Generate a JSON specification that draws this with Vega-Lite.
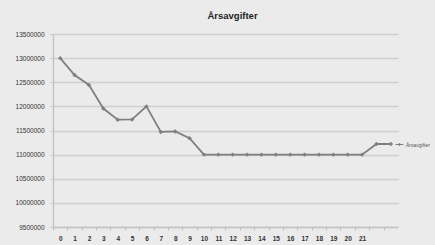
{
  "$schema": "https://vega.github.io/schema/vega-lite/v6.json",
  "width": 345,
  "height": 193,
  "autosize": "none",
  "padding": {"left": 53, "top": 34, "right": 37, "bottom": 18},
  "background": "#ebebeb",
  "title": {"text": "Årsavgifter", "font": "Liberation Sans", "fontSize": 9.5, "fontWeight": "bold", "color": "#222222", "anchor": "middle", "offset": 11, "dx": 7},
  "data": {"values": [
    {"x": "0", "v": 13000000, "s": "Årsavgifter"},
    {"x": "1", "v": 12650000, "s": "Årsavgifter"},
    {"x": "2", "v": 12445000, "s": "Årsavgifter"},
    {"x": "3", "v": 11955000, "s": "Årsavgifter"},
    {"x": "4", "v": 11725000, "s": "Årsavgifter"},
    {"x": "5", "v": 11730000, "s": "Årsavgifter"},
    {"x": "6", "v": 12000000, "s": "Årsavgifter"},
    {"x": "7", "v": 11470000, "s": "Årsavgifter"},
    {"x": "8", "v": 11480000, "s": "Årsavgifter"},
    {"x": "9", "v": 11340000, "s": "Årsavgifter"},
    {"x": "10", "v": 11000000, "s": "Årsavgifter"},
    {"x": "11", "v": 11000000, "s": "Årsavgifter"},
    {"x": "12", "v": 11000000, "s": "Årsavgifter"},
    {"x": "13", "v": 11000000, "s": "Årsavgifter"},
    {"x": "14", "v": 11000000, "s": "Årsavgifter"},
    {"x": "15", "v": 11000000, "s": "Årsavgifter"},
    {"x": "16", "v": 11000000, "s": "Årsavgifter"},
    {"x": "17", "v": 11000000, "s": "Årsavgifter"},
    {"x": "18", "v": 11000000, "s": "Årsavgifter"},
    {"x": "19", "v": 11000000, "s": "Årsavgifter"},
    {"x": "20", "v": 11000000, "s": "Årsavgifter"},
    {"x": "21", "v": 11000000, "s": "Årsavgifter"},
    {"x": "22", "v": 11220000, "s": "Årsavgifter"},
    {"x": "23", "v": 11220000, "s": "Årsavgifter"}
  ]},
  "encoding": {
    "x": {"field": "x", "type": "ordinal", "sort": null,
      "scale": {"type": "band", "paddingInner": 0, "paddingOuter": 0},
      "axis": {"title": null, "labelAngle": 0, "labelExpr": "toNumber(datum.value) > 21 ? '' : datum.label",
        "labelFont": "Liberation Sans", "labelFontSize": 6.5, "labelFontWeight": "bold", "labelColor": "#333333",
        "labelPadding": 5, "tickOffset": -7.19, "labelOffset": 7.19, "tickSize": 3, "tickColor": "#bbbbbb", "tickWidth": 1,
        "domainColor": "#c4c4c4", "domainWidth": 1.5, "grid": false}},
    "y": {"field": "v", "type": "quantitative",
      "scale": {"domain": [9500000, 13500000], "nice": false, "zero": false},
      "axis": {"title": null, "values": [9500000, 10000000, 10500000, 11000000, 11500000, 12000000, 12500000, 13000000, 13500000],
        "format": "d", "labelFont": "Liberation Sans", "labelFontSize": 6.5, "labelColor": "#333333",
        "labelPadding": 6, "tickSize": 3, "tickColor": "#c4c4c4", "domainColor": "#c4c4c4", "domainWidth": 1.5,
        "gridColor": "#cfcfcf", "gridWidth": 1.5}},
    "color": {"field": "s", "type": "nominal", "scale": {"range": ["#7f7f7f"]},
      "legend": {"title": null, "orient": "none", "legendX": 342, "legendY": 106,
        "symbolType": "M-1,0L1,0M0,-0.3L0.3,0L0,0.3L-0.3,0Z", "symbolSize": 60, "symbolStrokeWidth": 1,
        "labelFont": "Liberation Sans", "labelFontSize": 5, "labelColor": "#555555", "labelOffset": 2}}
  },
  "layer": [
    {"mark": {"type": "line", "strokeWidth": 1.8}},
    {"mark": {"type": "point", "shape": "diamond", "filled": true, "size": 20, "opacity": 1}}
  ],
  "config": {"view": {"stroke": null}}
}
